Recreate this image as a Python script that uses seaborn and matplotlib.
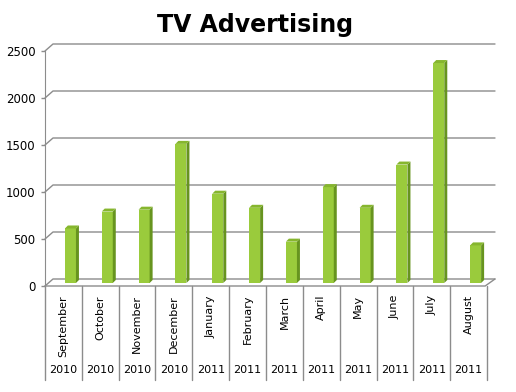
import matplotlib
matplotlib.use("Agg")
import matplotlib.pyplot as plt
import matplotlib.transforms as mtransforms
from matplotlib.patches import Polygon
import pandas as pd
import seaborn as sns

# Monthly TV advertising figures
months = ["September", "October", "November", "December", "January", "February",
          "March", "April", "May", "June", "July", "August"]
years = ["2010", "2010", "2010", "2010", "2011", "2011",
         "2011", "2011", "2011", "2011", "2011", "2011"]
values = [580, 760, 780, 1480, 950, 800, 440, 1020, 800, 1260, 2340, 400]
y_ticks = [0, 500, 1000, 1500, 2000, 2500]

df = pd.DataFrame({"month": months, "year": years, "value": values})

sns.set_style("white")
plt.rcParams["font.family"] = ["DejaVu Sans"]
plt.rcParams["text.color"] = "black"
plt.rcParams["ytick.labelcolor"] = "black"

W, H, DPI = 516, 392, 100
fig = plt.figure(figsize=(W / DPI, H / DPI), dpi=DPI)
ax = fig.add_axes([45 / W, (H - 286) / H, (487 - 45) / W, (286 - 51) / H])

ax.set_xlim(-0.5, 11.5)
ax.set_ylim(0, 2500)
px_x = (487 - 45) / 12.0        # pixels per category
px_y = (286 - 51) / 2500.0      # pixels per unit
grid_c = "#8c8c8c"

# back wall gridlines (3d look)
wall_dx, wall_dy = 8 / px_x, 7 / px_y
for v in y_ticks:
    ax.plot([-0.5, -0.5 + wall_dx, 11.5 + wall_dx], [v, v + wall_dy, v + wall_dy],
            color=grid_c, lw=1, clip_on=False, zorder=1)
# floor
ax.plot([-0.5, 11.5 - 0.05, 11.5 + wall_dx], [0, 0, wall_dy],
        color=grid_c, lw=1, clip_on=False, zorder=1)

sns.barplot(data=df, x="month", y="value", color="#9acb3c", width=0.3,
            saturation=1, ax=ax, zorder=3)

bar_off = mtransforms.ScaledTranslation(7 / DPI, 3 / DPI, fig.dpi_scale_trans)
sx, sy = 3 / px_x, 3 / px_y
for p in ax.patches:
    p.set_transform(ax.transData + bar_off)
    p.set_edgecolor("none")
    x0 = p.get_x()
    x1 = x0 + p.get_width()
    h = p.get_height()
    side = Polygon([(x1, 0), (x1, h), (x1 + sx, h + sy), (x1 + sx, sy)],
                   closed=True, facecolor="#67941f", edgecolor="none",
                   transform=ax.transData + bar_off, zorder=3, clip_on=False)
    top = Polygon([(x0, h), (x1, h), (x1 + sx, h + sy), (x0 + sx, h + sy)],
                  closed=True, facecolor="#86b62e", edgecolor="none",
                  transform=ax.transData + bar_off, zorder=3, clip_on=False)
    ax.add_patch(side)
    ax.add_patch(top)
    p.set_clip_on(False)

# category axis below the plot
for i in range(13):
    ax.plot([i - 0.5, i - 0.5], [0, -94 / px_y], color=grid_c, lw=1,
            clip_on=False, zorder=1)
for i, (m, y) in enumerate(zip(months, years)):
    ax.text(i, -9 / px_y, m, rotation=90, ha="center", va="top", fontsize=8)
    ax.text(i, -84 / px_y, y, ha="center", va="center", fontsize=8)

ax.set_xticks([])
ax.set_yticks(y_ticks)
ax.set_yticklabels([str(v) for v in y_ticks], fontsize=8.5)
ax.tick_params(axis="y", length=3, width=1, color=grid_c, pad=4, left=True,
               labelcolor="black")
ax.set_xlabel("")
ax.set_ylabel("")
for s in ["top", "right", "bottom"]:
    ax.spines[s].set_visible(False)
ax.spines["left"].set_color(grid_c)
ax.spines["left"].set_zorder(2)

fig.text(255 / W, 1 - 25 / H, "TV Advertising", ha="center", va="center",
         fontsize=17, fontweight="bold", color="black")

fig.savefig("out.png", dpi=DPI)
